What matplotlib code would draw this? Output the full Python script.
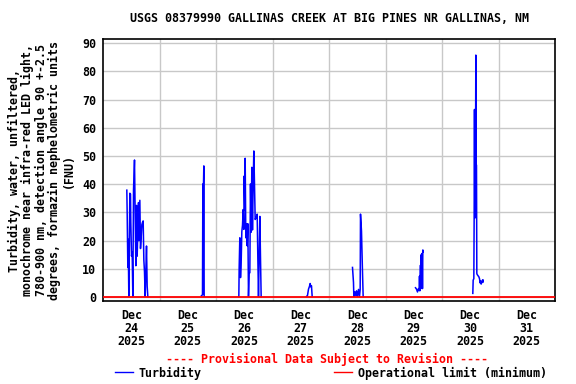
import numpy as np
import matplotlib
matplotlib.use("Agg")
import matplotlib.pyplot as plt
import matplotlib.dates as mdates
from matplotlib.lines import Line2D
from datetime import datetime, timedelta

plt.rcParams['font.family'] = ['DejaVu Sans Mono']
plt.rcParams['font.weight'] = 'bold'

# ---- data: hours after 2025-12-24 00:00, turbidity (FNU) ----
ev1_hours = [10.12, 10.27, 10.55, 10.69, 10.97, 11.40, 11.68, 11.82, 12.11, 12.39, 12.67,
             12.96, 13.38, 13.66, 13.95, 14.23, 14.51, 14.80, 15.08, 15.22, 15.65, 15.93,
             16.21, 16.50, 16.78, 17.06, 17.35, 17.63, 17.91, 18.19, 18.48, 18.76, 19.04]
ev1_vals = [37.9, 29.7, 10.5, 20.5, 0.3, 36.8, 36.5, 26.4, 14.5, 16.1, 0.3,
            37.9, 48.6, 30.0, 11.1, 32.5, 14.5, 23.5, 33.5, 20.0, 34.3, 17.2,
            21.0, 25.7, 26.5, 27.0, 13.1, 8.9, 0.2, 8.9, 18.1, 3.9, 0.2]

ev2_hours = [41.84, 42.26, 42.41, 42.55, 42.69, 42.83, 42.97]
ev2_vals = [0.5, 0.8, 40.1, 1.0, 40.1, 46.5, 0.3]

ev3_hours = [57.70, 57.84, 58.12, 58.41, 58.69, 58.97, 59.26, 59.54, 59.82, 59.96, 60.25,
             60.39, 60.67, 60.95, 61.24, 61.52, 61.80, 62.09, 62.37, 62.65, 62.94, 63.22,
             63.50, 63.79, 64.07, 64.35, 64.64, 64.92, 65.20, 65.49, 65.77, 66.05, 66.33,
             66.62, 66.90, 67.18]
ev3_vals = [0.2, 10.4, 21.0, 6.9, 12.2, 23.2, 25.5, 31.0, 24.0, 42.9, 31.0,
            49.2, 21.0, 26.0, 18.2, 26.0, 0.2, 8.6, 8.6, 40.1, 23.0, 46.0,
            23.8, 40.1, 51.8, 40.1, 27.5, 28.0, 28.5, 29.4, 13.9, 0.2, 13.9,
            28.6, 13.9, 0.2]

ev4_hours = [86.44, 86.87, 87.29, 87.71, 88.00, 88.28, 88.56, 88.85]
ev4_vals = [0.2, 0.6, 2.8, 3.8, 4.8, 3.6, 4.0, 0.2]

ev5_hours = [105.98, 106.40, 106.55, 106.97, 107.40, 107.68, 108.10, 108.53, 108.95,
             109.24, 109.38, 109.80, 110.23, 110.51]
ev5_vals = [10.5, 5.2, 0.2, 1.8, 0.5, 2.2, 0.2, 2.7, 0.2, 2.7, 29.4, 23.4, 8.8, 0.2]

ev6_hours = [132.74, 133.17, 133.59, 134.01, 134.30, 134.44, 134.58, 134.86, 135.01,
             135.15, 135.29, 135.57, 135.71, 135.86, 136.00]
ev6_vals = [3.3, 2.8, 1.8, 3.0, 2.5, 7.4, 2.2, 11.3, 3.0, 15.0, 11.0, 15.5, 3.0, 16.7, 16.0]

ev7_hours = [157.09, 157.24, 157.52, 157.66, 157.80, 157.94, 158.09, 158.23, 158.37,
             158.51, 158.65, 158.79, 158.94, 159.36, 159.64, 159.93, 160.21, 160.35,
             160.63, 160.92, 161.20, 161.34, 161.48]
ev7_vals = [1.3, 6.0, 6.5, 28.5, 66.5, 28.0, 66.5, 46.8, 85.8, 46.8, 46.8, 8.4,
            8.0, 7.5, 7.2, 6.5, 5.0, 5.7, 4.6, 5.3, 6.0, 5.2, 6.0]

oper_limit = 0.0
day_labels = ["Dec\n24\n2025", "Dec\n25\n2025", "Dec\n26\n2025", "Dec\n27\n2025",
              "Dec\n28\n2025", "Dec\n29\n2025", "Dec\n30\n2025", "Dec\n31\n2025"]
yticks = [0, 10, 20, 30, 40, 50, 60, 70, 80, 90]

title = "USGS 08379990 GALLINAS CREEK AT BIG PINES NR GALLINAS, NM"
ylabel = ("Turbidity, water, unfiltered,\nmonochrome near infra-red LED light,\n"
          "780-900 nm, detection angle 90 +-2.5\ndegrees, formazin nephelometric units\n(FNU)")

base = datetime(2025, 12, 24)
events = [(ev1_hours, ev1_vals), (ev2_hours, ev2_vals), (ev3_hours, ev3_vals),
          (ev4_hours, ev4_vals), (ev5_hours, ev5_vals), (ev6_hours, ev6_vals),
          (ev7_hours, ev7_vals)]

fig = plt.figure(figsize=(5.76, 3.84), dpi=100)
ax = fig.add_axes([103/576, 1 - 301/384, 452/576, 262/384])

FS = 8.4
for hrs, vals in events:
    t = [base + timedelta(hours=h) for h in hrs]
    ax.plot(t, vals, color='#0000ff', lw=1.1, zorder=3)

start = base
end = base + timedelta(days=8)
ax.plot([start, end], [oper_limit, oper_limit], color='#ff0000', lw=1.3, zorder=4)

ax.set_xlim(start, end)
ax.set_ylim(-1.4, 91.5)

ax.set_xticks([base + timedelta(hours=12 + 24 * i) for i in range(8)])
ax.set_xticklabels(day_labels, fontsize=FS, fontweight='bold', linespacing=1.0)
ax.set_xticks([base + timedelta(days=i) for i in range(1, 8)], minor=True)
ax.set_yticks(yticks)
ax.set_yticklabels([str(v) for v in yticks], fontsize=FS, fontweight='bold')
ax.tick_params(axis='both', which='both', length=0)
ax.tick_params(axis='x', pad=5.5)
ax.tick_params(axis='y', pad=5)

ax.grid(False)
ax.xaxis.grid(True, which='minor', color='#c8c8c8', lw=1.0)
ax.yaxis.grid(True, which='major', color='#c8c8c8', lw=1.0)
ax.set_axisbelow(True)
for s in ax.spines.values():
    s.set_linewidth(1.2)
    s.set_color('black')

ax.set_ylabel(ylabel, fontsize=FS, fontweight='bold', linespacing=1.05)
ax.yaxis.set_label_coords(-0.062, 0.5)

fig.text(329/576, 1 - 19/384, title, ha='center', va='center', fontsize=FS, fontweight='bold')
fig.text(327/576, 1 - 359/384, "---- Provisional Data Subject to Revision ----",
         ha='center', va='center', fontsize=FS, fontweight='bold', color='#ff0000')

handles = [Line2D([], [], color='#0000ff', lw=1.0), Line2D([], [], color='#ff0000', lw=1.0)]
fig.legend(handles, ["Turbidity", "Operational limit (minimum)"], loc='center left',
           bbox_to_anchor=(115/576, 1 - 373/384), ncol=2, frameon=False,
           prop={'family': 'DejaVu Sans Mono', 'weight': 'bold', 'size': FS},
           handlelength=1.55, handletextpad=0.5, columnspacing=11.3,
           borderpad=0, borderaxespad=0)

fig.savefig("out.png", dpi=100)
